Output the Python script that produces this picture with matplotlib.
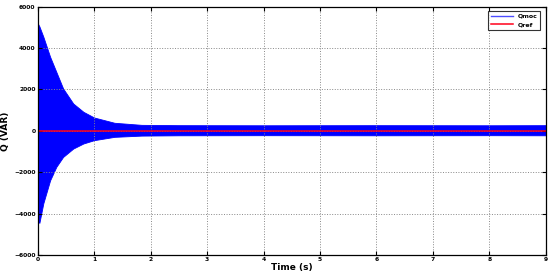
import matplotlib
matplotlib.use("Agg")
import matplotlib.pyplot as plt
import numpy as np

t_env = [0, 0.03, 0.1, 0.22, 0.33, 0.45, 0.63, 0.81, 1.0, 1.36, 1.84, 2.5, 4, 6, 8, 9]
q_upper = [5200, 5050, 4550, 3580, 2850, 2050, 1320, 920, 645, 390, 290, 275, 270, 275, 270, 275]
q_lower = [-4300, -4450, -3500, -2390, -1740, -1260, -855, -610, -450, -290, -230, -215, -210, -215, -210, -215]

t_ref = [0, 9]
q_ref = [0, 0]

x_ticks = list(range(0, 10))
y_ticks = [-6000, -4000, -2000, 0, 2000, 4000, 6000]

fig = plt.figure(figsize=(5.5, 2.79), dpi=100)
ax = fig.add_axes([0.0685, 0.086, 0.924, 0.89])

ax.fill_between(t_env, q_lower, q_upper, color=(0, 0, 1), linewidth=0.6,
                edgecolor=(0, 0, 1))
ax.plot([], [], color=(0.3, 0.3, 1), lw=1, label="Qmoc")
ax.plot(t_ref, q_ref, color=(1, 0, 0.1), lw=1.1, label="Qref")

ax.set_xlim(0, 9)
ax.set_ylim(-6000, 6000)
ax.set_xticks(x_ticks)
ax.set_yticks(y_ticks)
ax.tick_params(direction="in", top=True, right=True, labelsize=4.3, length=3, width=0.8, pad=1.5)
for lab in ax.get_xticklabels() + ax.get_yticklabels():
    lab.set_fontweight("bold")
ax.grid(True, linestyle=":", color="#888888", linewidth=0.7)
for s in ax.spines.values():
    s.set_linewidth(0.9)

ax.set_xlabel("Time (s)", fontsize=6.5, fontweight="bold", labelpad=1)
ax.set_ylabel("Q (VAR)", fontsize=6.5, fontweight="bold", labelpad=3)

leg = ax.legend(loc="upper right", fontsize=4.5, frameon=True, fancybox=False,
                edgecolor="black", handlelength=3.5, borderpad=0.4,
                labelspacing=0.5, bbox_to_anchor=(0.995, 0.995))
leg.get_frame().set_linewidth(0.8)
for txt in leg.get_texts():
    txt.set_fontweight("bold")

fig.savefig("out.png", dpi=100)
